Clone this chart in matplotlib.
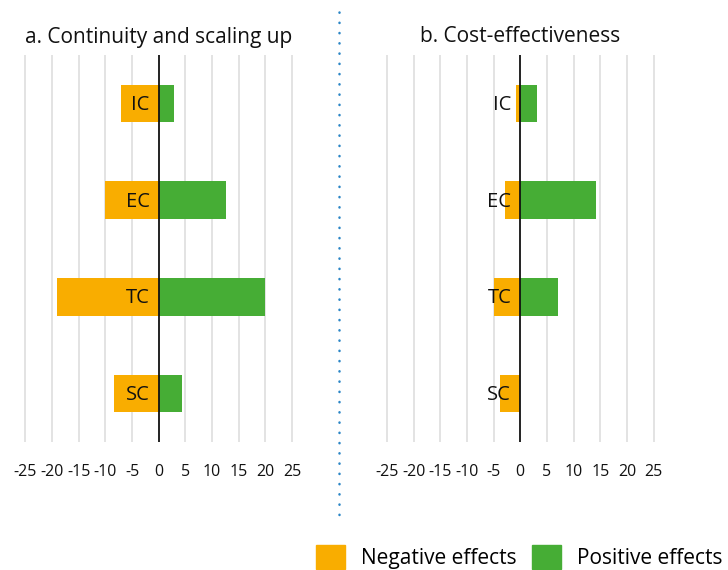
import matplotlib
matplotlib.use('Agg')
import matplotlib.pyplot as plt
from matplotlib.lines import Line2D
from matplotlib.patches import Patch

plt.rcParams['font.family'] = ['Open Sans', 'DejaVu Sans']

categories = ['IC', 'EC', 'TC', 'SC']
titles = ['a. Continuity and scaling up', 'b. Cost-effectiveness']
# negative / positive effects per panel
neg_a = [-7, -10, -19, -8.4]
pos_a = [2.9, 12.6, 20, 4.4]
neg_b = [-0.8, -2.9, -4.9, -3.8]
pos_b = [3.1, 14.2, 7.1, 0]
ticks = [-25, -20, -15, -10, -5, 0, 5, 10, 15, 20, 25]

ORANGE = '#f9ad00'
GREEN = '#46ad35'

W, H = 728, 570
fig = plt.figure(figsize=(W / 100, H / 100), dpi=100)

px_unit = 26.65 / 5
xlim = 26
zeros = [158.7, 520.3]
top, bottom = 55, 442

for k, (neg, pos) in enumerate([(neg_a, pos_a), (neg_b, pos_b)]):
    left = zeros[k] - xlim * px_unit
    ax = fig.add_axes([left / W, 1 - bottom / H, 2 * xlim * px_unit / W, (bottom - top) / H])
    y = list(range(len(categories)))
    ax.barh(y, neg, height=0.39, color=ORANGE, zorder=2)
    ax.barh(y, pos, height=0.39, color=GREEN, zorder=2)
    ax.axvline(0, color='#111111', lw=1.3, zorder=3)
    for t in ticks:
        if t != 0:
            ax.axvline(t, color='#dedede', lw=1.2, zorder=1)
    for i, c in enumerate(categories):
        ax.annotate(c, (0, i), xytext=(-6.5, -1), textcoords='offset points',
                    ha='right', va='center', fontsize=14.5, color='#111111', zorder=4)
    ax.set_xlim(-xlim, xlim)
    ax.set_ylim(3.5, -0.5)
    ax.set_xticks(ticks)
    ax.set_xticklabels([str(t) for t in ticks], fontsize=11.5)
    ax.tick_params(axis='x', length=0, pad=16, colors='#111111')
    ax.set_yticks([])
    for s in ax.spines.values():
        s.set_visible(False)
    ax.set_title(titles[k], fontsize=15, pad=9, color='#111111')

fig.add_artist(Line2D([339 / W, 339 / W], [1 - 12 / H, 1 - 522 / H], transform=fig.transFigure,
                      ls=(0, (0.1, 4)), lw=1.8, color='#2a85c6', dash_capstyle='round'))

handles = [Patch(color=ORANGE), Patch(color=GREEN)]
fig.legend(handles, ['Negative effects', 'Positive effects'], loc='center right',
           bbox_to_anchor=(1.004, 1 - 557 / H), ncol=2, frameon=False, fontsize=15,
           handlelength=1.4, handleheight=1.4, handletextpad=0.75, columnspacing=0.75,
           borderaxespad=0.0)

fig.savefig('out.png', dpi=100)
